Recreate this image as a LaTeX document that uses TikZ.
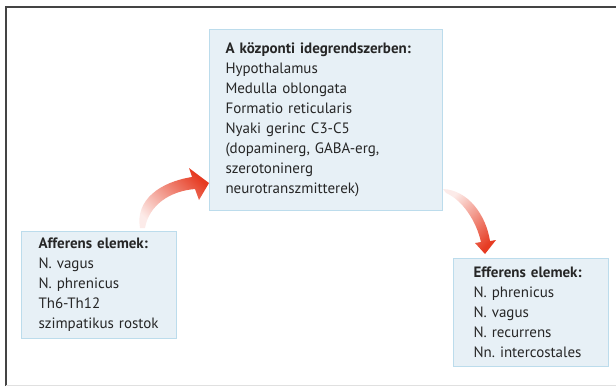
\documentclass[tikz,border=0pt]{standalone}
\usepackage{fontspec}
\setmainfont{PT Sans}
\frenchspacing
\definecolor{boxfill}{HTML}{E7F0F6}
\definecolor{boxline}{HTML}{BCDCEC}
\definecolor{txt}{HTML}{262626}
\definecolor{arrred}{HTML}{E63B22}
\definecolor{frameline}{HTML}{444444}

\begin{document}
\begin{tikzpicture}[x=1pt, y=-1pt,
  infobox/.style={draw=boxline, line width=1pt, fill=boxfill, anchor=north west,
    align=left, inner xsep=#1, inner ysep=0pt, text=txt,
    font=\fontsize{15}{20}\selectfont},
  infobox/.default=16pt]
\useasboundingbox (0,0) rectangle (616,386);

% frame
\draw[frameline, line width=1.3pt] (6,386) -- (6,7) -- (616,7);
\draw[black!12, line width=0.8pt] (6,385) -- (616,385);

% boxes
\node[infobox=16pt, text width=201pt, minimum height=181pt] (kozp) at (209,29)
  {\textbf{A központi idegrendszerben:}\\
   Hypothalamus\\
   Medulla oblongata\\
   Formatio reticularis\\
   Nyaki gerinc C3-C5\\
   (dopaminerg, GABA-erg,\\
   szerotoninerg\\
   neurotranszmitterek)};

\node[infobox=17pt, text width=121pt, minimum height=107pt] (aff) at (21,231)
  {\textbf{Afferens elemek:}\\
   N. vagus\\
   N. phrenicus\\
   Th6-Th12\\
   szimpatikus rostok};

\node[infobox=20pt, text width=115pt, minimum height=108pt] (eff) at (453,258)
  {\textbf{Efferens elemek:}\\
   N. phrenicus\\
   N. vagus\\
   N. recurrens\\
   Nn. intercostales};

% arrows
\shade[top color=arrred, bottom color=arrred!10, shading angle=-45]
  (140,228) .. controls (135,200) and (160,182) .. (192,177)
  -- (189,168) -- (209,183) -- (199,200) -- (195,189)
  .. controls (170,191) and (149,205) .. (145,228) -- cycle;
\shade[top color=arrred!10, bottom color=arrred, shading angle=45]
  (443,189) .. controls (468,190) and (486,215) .. (490,241)
  -- (496,240) -- (485,254) -- (475,243) -- (481,242)
  .. controls (476,220) and (462,200) .. (446,193) -- cycle;
\end{tikzpicture}
\end{document}
